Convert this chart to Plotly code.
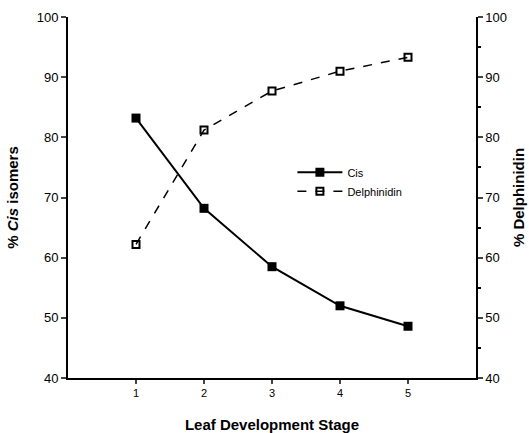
import plotly.graph_objects as go

stages = [1, 2, 3, 4, 5]
cis = [83.2, 68.2, 58.5, 52.0, 48.6]
delphinidin = [62.2, 81.2, 87.7, 91.0, 93.3]

font = "Liberation Sans, Arial, sans-serif"

fig = go.Figure()
fig.add_trace(go.Scatter(
    x=stages, y=cis, name="Cis", mode="lines+markers",
    line=dict(color="black", width=2),
    marker=dict(symbol="square", size=9, color="black"),
))
fig.add_trace(go.Scatter(
    x=stages, y=delphinidin, name="Delphinidin", mode="lines+markers",
    yaxis="y2",
    line=dict(color="black", width=1.5, dash="dash"),
    marker=dict(symbol="square-open", size=7, color="black", line=dict(width=2)),
))

fig.update_layout(
    width=529, height=433,
    margin=dict(l=68, r=53, t=17, b=55),
    paper_bgcolor="white", plot_bgcolor="white",
    font=dict(family=font, color="black", size=13),
    showlegend=True,
    legend=dict(x=0.55, y=0.61, xanchor="left", yanchor="top",
                bgcolor="rgba(0,0,0,0)", font=dict(size=11),
                itemwidth=45, tracegroupgap=6),
    xaxis=dict(range=[0, 6], tickvals=stages, ticktext=[str(s) for s in stages],
               showgrid=False, zeroline=False, showline=True, linecolor="black",
               linewidth=2, ticks="outside", ticklen=4, tickwidth=1.5,
               tickfont=dict(size=11), automargin=False,
               title=dict(text="<b>Leaf Development Stage</b>", font=dict(size=15), standoff=21)),
    yaxis=dict(range=[40, 100], dtick=10, showgrid=False, zeroline=False,
               showline=True, linecolor="black", linewidth=2,
               ticks="outside", ticklen=5, tickwidth=1.5,
               tickfont=dict(size=13), automargin=False,
               title=dict(text="<b>% <i>Cis</i> isomers</b>", font=dict(size=15), standoff=14)),
    yaxis2=dict(range=[40, 100], dtick=10, overlaying="y", side="right",
                showgrid=False, zeroline=False, showline=True, linecolor="black",
                linewidth=1.5, ticks="outside", ticklen=5, tickwidth=1.5,
                tickfont=dict(size=13), automargin=False,
                minor=dict(dtick=5, ticks="outside", ticklen=3, tickcolor="black"),
                title=dict(text="<b>% Delphinidin</b>", font=dict(size=15), standoff=7)),
)

fig.write_html("out.html")
